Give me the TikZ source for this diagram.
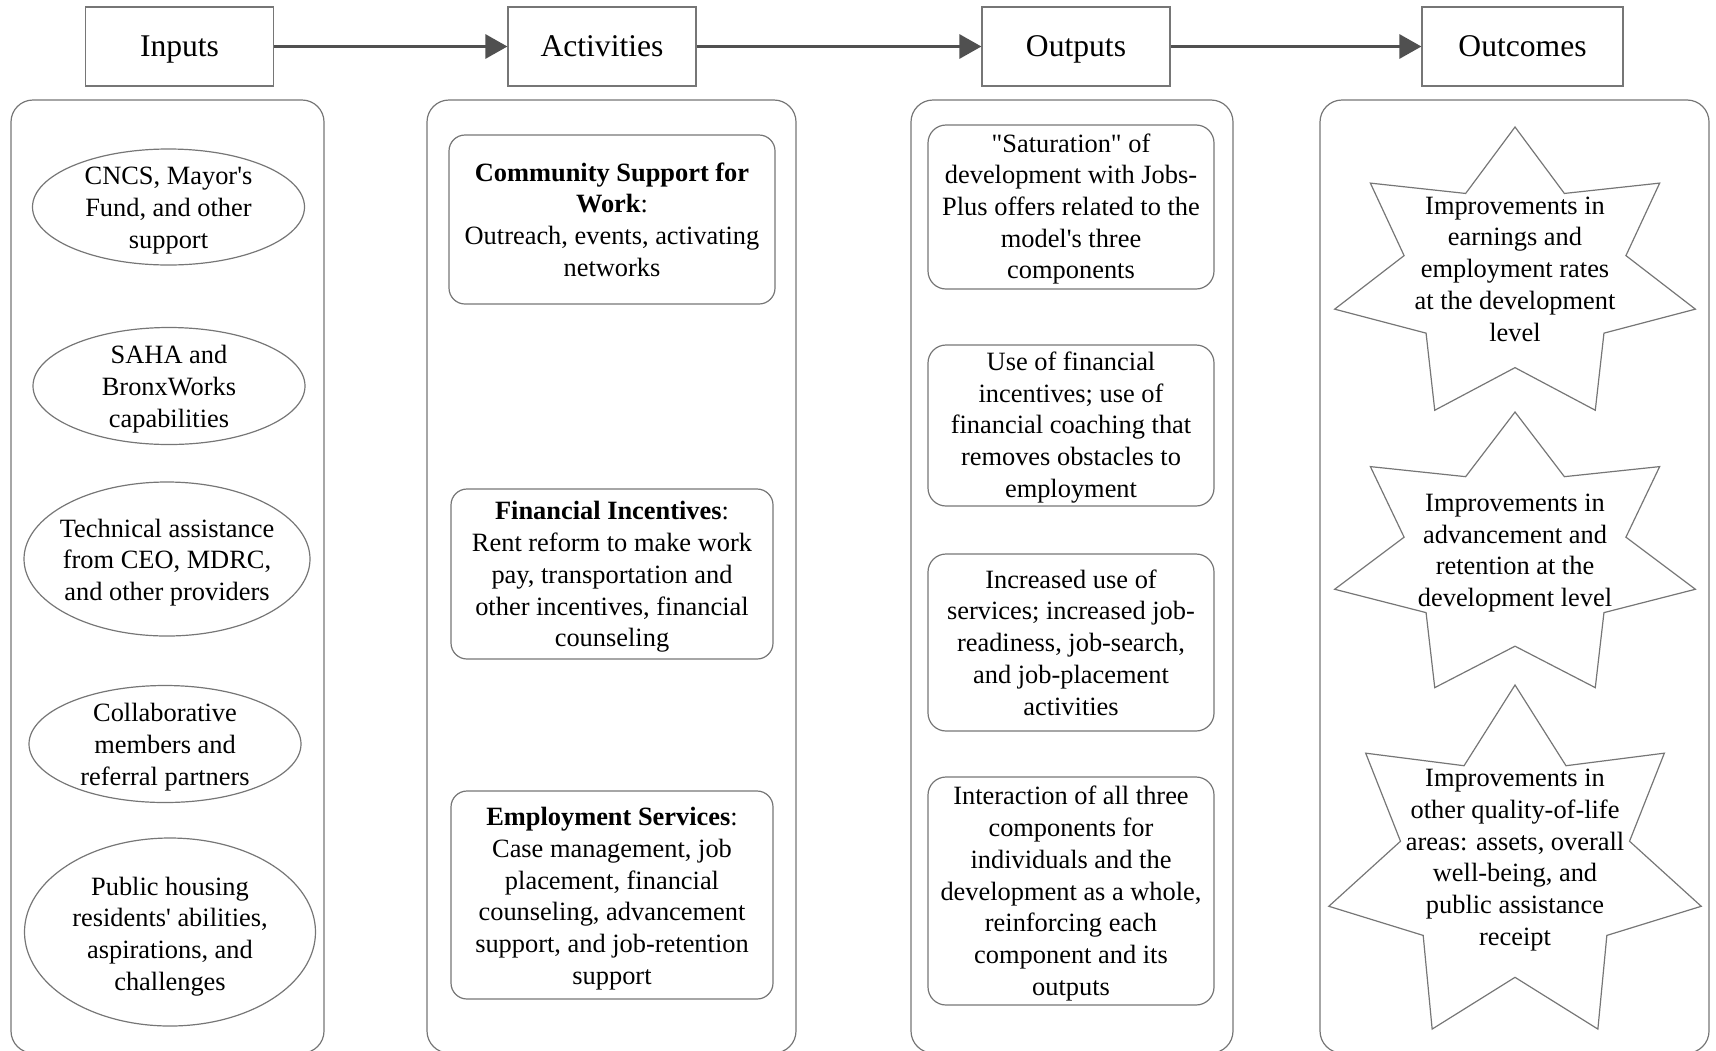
\documentclass[tikz,border=0pt]{standalone}
\usepackage{fontspec}
\setmainfont{Liberation Serif}
\newfontfamily\tnr{Liberation Serif}
\usetikzlibrary{shapes.geometric,arrows.meta}
\definecolor{boxgray}{RGB}{118,118,118}
\definecolor{arrgray}{RGB}{80,80,80}
\newcommand\drawstar[4]{% cx, cy, Rx, Ry
  \begin{scope}[shift={(#1,#2)}]
    \draw[boxline] (270:#3 and #4)
      \foreach \k [evaluate=\k as \f using {mod(\k,2)==0 ? 1 : 0.615}] in {1,...,13} {
        -- ({270+\k*25.7143}:{\f*#3} and {\f*#4}) } -- cycle;
  \end{scope}}
\begin{document}
\begin{tikzpicture}[x=0.5pt,y=-0.5pt,
  boxline/.style={draw=boxgray, line width=0.6pt},
  hdr/.style={boxline, minimum width=94pt, minimum height=39.5pt, inner sep=0pt,
    text height=12.5pt, text depth=2.3pt,
    font=\tnr\fontsize{15.8}{19}\selectfont},
  txt/.style={align=center, inner sep=0pt, font=\tnr\fontsize{13.2}{15.85}\selectfont},
  panel/.style={boxline, rounded corners=11pt},
  actbox/.style={boxline, rounded corners=8pt, inner sep=0pt},
  outbox/.style={boxline, rounded corners=9pt, inner sep=0pt, minimum width=143pt},
  oval/.style={boxline, ellipse, inner sep=0pt},
  arr/.style={draw=arrgray, line width=1.5pt, -{Triangle[length=11pt,width=12pt]}, arrgray}
]
\useasboundingbox (0,0) rectangle (1716,1050);
\clip (0,0) rectangle (1716,1050);

% headers
\node[hdr] (h1) at (179.5,46.5) {Inputs};
\node[hdr] (h2) at (602,46.5) {Activities};
\node[hdr] (h3) at (1076,46.5) {Outputs};
\node[hdr, minimum width=100.5pt] (h4) at (1522.5,46.5) {Outcomes};
\draw[arr] (h1.east) -- (h2.west);
\draw[arr] (h2.east) -- (h3.west);
\draw[arr] (h3.east) -- (h4.west);

% panels
\draw[panel] (11,100) rectangle (324,1053);
\draw[panel] (427,100) rectangle (796,1053);
\draw[panel] (911,100) rectangle (1233,1053);
\draw[panel] (1320,100) rectangle (1709,1053);

% inputs
\node[oval, minimum width=136pt, minimum height=58pt] (e1) at (168.5,207) {};
\node[txt] (e1t) at (168.5,210.5) {CNCS, Mayor's\\Fund, and other\\support};
\node[oval, minimum width=136pt, minimum height=58.5pt] (e2) at (169,386) {};
\node[txt] (e2t) at (169,389) {SAHA and\\BronxWorks\\capabilities};
\node[oval, minimum width=143pt, minimum height=77pt] (e3) at (167,559) {};
\node[txt] (e3t) at (167,562.5) {Technical assistance\\from CEO, MDRC,\\and other providers};
\node[oval, minimum width=136pt, minimum height=58.5pt] (e4) at (165,744) {};
\node[txt] (e4t) at (165,747) {Collaborative\\members and\\referral partners};
\node[oval, minimum width=145.5pt, minimum height=94pt] (e5) at (170,932) {};
\node[txt] (e5t) at (170,936.5) {Public housing\\residents' abilities,\\aspirations, and\\challenges};

% activities
\node[actbox, minimum width=163pt, minimum height=84.5pt] (a1) at (612,219.5) {};
\node[txt] (a1t) at (612,219.5)
  {\textbf{Community Support for}\\\textbf{Work}:\\Outreach, events, activating\\networks};
\node[actbox, minimum width=161pt, minimum height=85pt] (a2) at (612,574) {};
\node[txt] (a2t) at (612,577)
  {\textbf{Financial Incentives}:\\Rent reform to make work\\pay, transportation and\\other incentives, financial\\counseling};
\node[actbox, minimum width=161pt, minimum height=104pt] (a3) at (612,895) {};
\node[txt] (a3t) at (612,898.5)
  {\textbf{Employment Services}:\\Case management, job\\placement, financial\\counseling, advancement\\support, and job-retention\\support};

% outputs
\node[outbox, minimum height=82pt] (o1) at (1071,207) {};
\node[txt] (o1t) at (1071,209)
  {"Saturation" of\\development with Jobs-\\Plus offers related to the\\model's three\\components};
\node[outbox, minimum height=80.5pt] (o2) at (1071,425.5) {};
\node[txt] (o2t) at (1071,427.5)
  {Use of financial\\incentives; use of\\financial coaching that\\removes obstacles to\\employment};
\node[outbox, minimum height=88.5pt] (o3) at (1071,642.5) {};
\node[txt] (o3t) at (1071,642.5)
  {Increased use of\\services; increased job-\\readiness, job-search,\\and job-placement\\activities};
\node[outbox, minimum height=114pt] (o4) at (1071,891) {};
\node[txt] (o4t) at (1071,893.5)
  {Interaction of all three\\components for\\individuals and the\\development as a whole,\\reinforcing each\\component and its\\outputs};

% outcomes
\drawstar{1515}{276}{185}{149}
\node[txt] (s1) at (1515,269) {Improvements in\\earnings and\\employment rates\\at the development\\level};
\drawstar{1515}{557}{185}{145}
\node[txt] (s2) at (1515,553) {Improvements in\\advancement and\\retention at the\\development level};
\drawstar{1515}{866}{191}{181}
\node[txt] (s3) at (1515,860) {Improvements in\\other quality-of-life\\areas: assets, overall\\well-being, and\\public assistance\\receipt};
\end{tikzpicture}
\end{document}
